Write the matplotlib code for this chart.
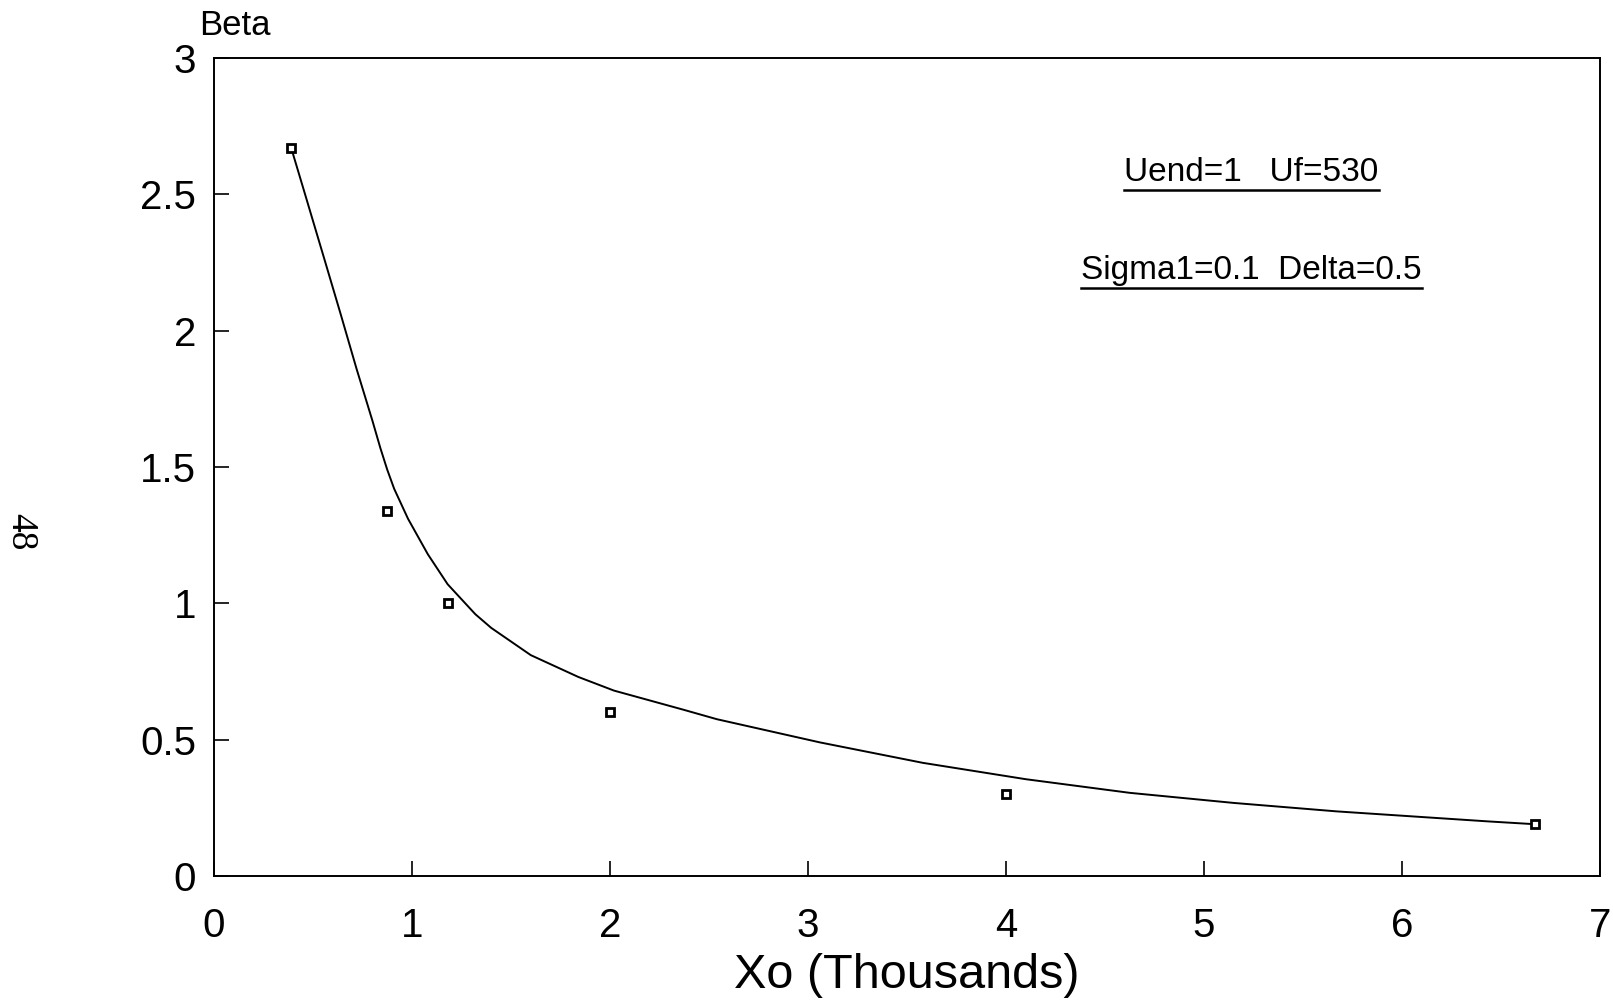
import matplotlib

matplotlib.use("Agg")
import matplotlib.pyplot as plt

# measured points (Xo in thousands, Beta)
xo_points = [0.39, 0.875, 1.18, 2.0, 4.0, 6.67]
beta_points = [2.67, 1.34, 1.0, 0.60, 0.30, 0.19]

# fitted curve
xo_curve = [0.39, 0.46, 0.5625, 0.64, 0.72, 0.80, 0.84, 0.875, 0.91, 0.98, 1.08,
            1.18, 1.32, 1.40, 1.60, 1.84, 2.02, 2.37, 2.54, 3.06, 3.58, 4.10,
            4.625, 5.15, 5.67, 6.19, 6.44, 6.67]
beta_curve = [2.67, 2.50, 2.25, 2.06, 1.86, 1.67, 1.57, 1.49, 1.42, 1.31, 1.18,
              1.07, 0.96, 0.91, 0.81, 0.73, 0.68, 0.61, 0.575, 0.49, 0.415, 0.355,
              0.305, 0.268, 0.237, 0.212, 0.20, 0.19]

xticks = [0, 1, 2, 3, 4, 5, 6, 7]
yticks = [0, 0.5, 1, 1.5, 2, 2.5, 3]
ytick_labels = ["0", "0.5", "1", "1.5", "2", "2.5", "3"]

notes = ["Uend=1   Uf=530", "Sigma1=0.1  Delta=0.5"]
note_y = [2.55, 2.19]

plt.rcParams["font.family"] = ["Liberation Sans", "DejaVu Sans"]

fig = plt.figure(figsize=(16.13, 10.02), dpi=100)
ax = fig.add_axes([214 / 1613, 1 - 876 / 1002, (1600 - 214) / 1613, (876 - 58) / 1002])

ax.plot(xo_curve, beta_curve, color="black", lw=1.4)
ax.plot(xo_points, beta_points, ls="none", marker="s", ms=6,
        mfc="white", mec="black", mew=2)

ax.set_xlim(0, 7)
ax.set_ylim(0, 3)
ax.set_xticks(xticks)
ax.set_yticks(yticks)
ax.set_yticklabels(ytick_labels)
ax.tick_params(axis="both", direction="in", length=11, width=1.2,
               labelsize=29, colors="black")
ax.tick_params(axis="x", pad=22)
ax.tick_params(axis="y", pad=13)
for sp in ax.spines.values():
    sp.set_linewidth(1.4)

ax.set_xlabel("Xo (Thousands)", fontsize=35, labelpad=6)
fig.text(199 / 1613, 1 - 35 / 1002, "Beta", fontsize=25, ha="left", va="baseline")
fig.text(20 / 1613, 1 - 532 / 1002, "48", fontsize=27, family="Liberation Serif",
         rotation=-90, ha="center", va="center")

texts = []
for note, y in zip(notes, note_y):
    texts.append(ax.text(5.24, y, note, fontsize=24, ha="center", va="baseline"))

# underline the notes
fig.canvas.draw()
renderer = fig.canvas.get_renderer()
inv = ax.transData.inverted()
for t in texts:
    bb = t.get_window_extent(renderer)
    (x0, y0), (x1, _) = inv.transform([[bb.x0, bb.y0 - 2], [bb.x1, bb.y0]])
    ax.plot([x0, x1], [y0, y0], color="black", lw=1.8, clip_on=False)

fig.savefig("out.png", dpi=100)
